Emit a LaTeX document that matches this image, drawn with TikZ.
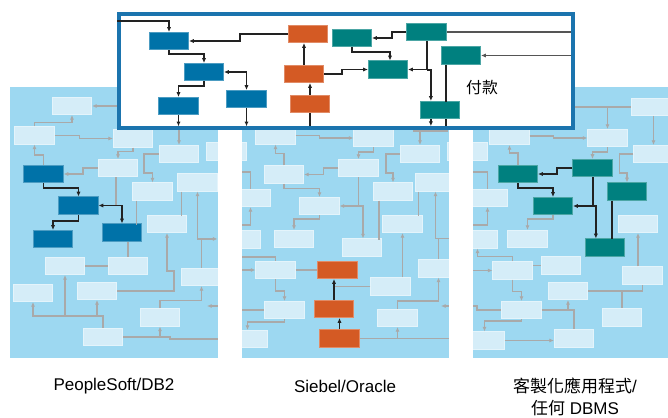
\documentclass[tikz,border=0pt]{standalone}
\usepackage{fontspec}
\setmainfont{Liberation Sans}
\newfontfamily\cjk{Noto Sans CJK TC}
\usetikzlibrary{arrows.meta,calc}
\definecolor{panelbg}{HTML}{9DD8F1}
\definecolor{boxfill}{HTML}{D5EDF8}
\definecolor{boxedge}{HTML}{E4F4FB}
\definecolor{psblue}{HTML}{0072A8}
\definecolor{sborange}{HTML}{D45A24}
\definecolor{cuteal}{HTML}{00807F}
\definecolor{lgray}{HTML}{A9A9A9}
\definecolor{dark}{HTML}{222222}
\definecolor{midgray}{HTML}{555555}
\definecolor{frame}{HTML}{1B74AE}
\def\LBox#1#2{\node[lbox] (#1) at (#2) {};}
\def\DBox#1#2#3{\node[dbox=#3] (#1) at (#2) {};}

\begin{document}
\begin{tikzpicture}[x=0.03cm,y=-0.03cm,
  lbox/.style={draw=boxedge,fill=boxfill,line width=0.5pt,minimum width=1.185cm,minimum height=0.525cm,inner sep=0pt},
  dbox/.style={fill=#1,draw=#1!70!white,line width=0.6pt,minimum width=1.185cm,minimum height=0.525cm,inner sep=0pt},
  gline/.style={draw=lgray,line width=1.5pt},
  garr/.style={gline,-{Latex[length=4pt,width=3.6pt]}},
  dline/.style={draw=dark,line width=1.7pt},
  darr/.style={dline,-{Latex[length=4pt,width=3.6pt]}},
  dboth/.style={dline,{Latex[length=4pt,width=3.6pt]}-{Latex[length=4pt,width=3.6pt]}},
  lbl/.style={font=\fontsize{14.5}{19}\selectfont,inner sep=0pt}]
\useasboundingbox (0,0) rectangle (668,417);
\fill[panelbg] (10,87) rectangle (668,358);
% PeopleSoft/DB2
\LBox{pa1}{72,106} \LBox{pa2}{34.5,135.5} \LBox{pa3}{133,138.5} \LBox{pa4}{118,168}
\LBox{pa5}{179,154} \LBox{pa6}{226.5,151.5} \LBox{pa7}{152.5,191.5} \LBox{pa8}{197.5,182.5}
\LBox{pa9}{167,224} \LBox{pa10}{65,266} \LBox{pa11}{128,266} \LBox{pa12}{201.5,277}
\LBox{pa13}{33,293} \LBox{pa14}{97,291} \LBox{pa15}{160,317.5} \LBox{pa16}{103,337}
\DBox{pd1}{43.5,174}{psblue} \DBox{pd2}{78.5,205.5}{psblue}
\DBox{pd3}{53,239}{psblue} \DBox{pd4}{122,232.5}{psblue}
% Siebel/Oracle
\LBox{qb1}{275.5,135.5} \LBox{qb2}{373.5,138} \LBox{qb3}{420,154} \LBox{qb4}{284,174.5}
\LBox{qb5}{358.5,168} \LBox{qb6}{393,191.5} \LBox{qb7}{435.5,182.5} \LBox{qb8}{250.5,198}
\LBox{qb9}{319.5,206} \LBox{qb10}{402.5,224} \LBox{qb11}{240.5,239.5} \LBox{qb12}{294,239}
\LBox{qb13}{362,247.5} \LBox{qb14}{275.5,270} \LBox{qb15}{438.5,268.5} \LBox{qb16}{390.5,286.5}
\LBox{qb17}{284.5,310} \LBox{qb18}{397.5,318} \LBox{qb19}{247.5,339}
\DBox{qo1}{337.5,270}{sborange} \DBox{qo2}{334,309}{sborange} \DBox{qo3}{339.5,338.5}{sborange}
% custom apps
\LBox{rb1}{509.5,136} \LBox{rb2}{651.5,106.75} \LBox{rb3}{607.5,138} \LBox{rb4}{467.5,151.5}
\LBox{rb5}{653.5,154} \LBox{rb6}{487.5,198} \LBox{rb7}{638,224} \LBox{rb8}{477.5,239.5}
\LBox{rb9}{527.5,239} \LBox{rb10}{512.5,270.5} \LBox{rb11}{561,265.5} \LBox{rb12}{642.5,275.5}
\LBox{rb13}{568,291} \LBox{rb14}{521.5,310} \LBox{rb15}{622,317.5} \LBox{rb16}{484.5,340.5}
\LBox{rb17}{574,338.5}
\DBox{rd1}{518,174}{cuteal} \DBox{rd2}{592.5,168}{cuteal} \DBox{rd3}{627,191.5}{cuteal}
\DBox{rd4}{553,206}{cuteal} \DBox{rd5}{605,247.5}{cuteal}
% grey links, panel 1
\coordinate (e1) at (125,106);
\draw[garr] (e1) -- (pa1.east);
\draw[garr] (pa2.north) -- ++(0,-4) -| (pa1.south);
\draw[garr] (pa2.east) -- ++(25,0) |- (pa3.west);
\draw[garr] (pd1.north) -- ++(0,-10) -| (pa2.south);
\draw[garr] (pa4.west) -- ++(-15,0) |- (pd1.east);
\draw[garr] (pa3.south) -- ++(0,4) -| (pa4.north);
\draw[gline] ($(pa4.south)+(-2,0)$) -- ($(pa4.south |- pd2.east)+(-2,0)$);
\draw[garr] (pa5.west) -- ++(-15,0) -- ++(0,19) -| (pa7.north);
\draw[gline] ($(pa7.south west)+(4,0)$) -- ++(0,24);
\draw[gline] ($(pa8.south west)+(4,0)$) -- ++(0,24);
\draw[garr] (pa12.north) -- ++(0,-29) -| (pa8.south);
\draw[garr] (pa12.north) ++(0,-29) -- ++(16,0);
\draw[gline] (pa11.north) -- (pa11.north |- pd4.south);
\draw[gline] (pa10.east) -- (pa11.west);
\draw[garr] (pa14.east) -- ++(57,0) -- ++(0,-20) -| (pa9.south);
\draw[garr] (pa16.north) -- ++(0,-12) -| (pa13.south);
\draw[garr] (pa16.north) ++(0,-12) -| (pa10.south);
\draw[garr] (pa16.north) ++(0,-12) -| (pa14.south);
\draw[gline] (pa16.east) -- ++(47,0) -- ++(0,2) -- ++(60,0);
\draw[garr] (pa16.east -| pa15.south) -- (pa15.south);
\draw[garr] (pa15.north) -- ++(0,-8) -| (pa12.south);
\coordinate (e2) at (222,306);
\draw[garr] (e2) -- ++(-15,0);
% grey links, panel 2
\draw[garr] (qb1.east) -- ++(24,0) |- (qb2.west);
\draw[garr] (qb2.south) -- ++(0,5) -| (qb5.north);
\draw[garr] (qb4.north) -- ++(0,-12) -| (qb1.south);
\draw[garr] (qb5.west) -- ++(-15,0) |- (qb4.east);
\draw[garr] (qb3.west) -- ++(-14,0) -- ++(0,19) -| (qb6.north);
\draw[garr] (qb4.south) -- ++(0,5) -| (qb9.north);
\draw[garr] (qb5.south) |- (qb9.east);
\draw[garr] (qb5.south) ++(0,29.25) -| ($(qb13.north)+(1,0)$);
\draw[garr] (qb9.south) -- ++(0,4) -| (qb12.north);
\draw[gline] ($(qb6.south west)+(6,0)$) -- ++(0,39);
\draw[gline] ($(qb7.south west)+(3,0)$) -- ++(0,24);
\coordinate (e3) at (236,172);
\draw[gline] (e3) -| (qb8.north);
\coordinate (e4) at (236,225);
\draw[garr] (e4) -| (qb8.south);
\draw[garr] (qb15.north) -- ++(0,-21) -| (qb7.south);
\draw[gline] (qb15.north) ++(0,-21) -- ++(12,0);
\draw[garr] (qb10.south |- qb16.north) -- (qb10.south);
\coordinate (e5) at (236,257);
\draw[gline] (e5) -| (qb14.north);
\coordinate (e6) at (236,270);
\draw[garr] (e6) -- (qb14.west);
\draw[gline] (qb14.east) -- (qo1.west);
\draw[garr] (qb14.south) -- ++(0,12) -| (qb17.north);
\draw[gline] (qb16.west) -- (qb16.west -| qo2.north);
\coordinate (e7) at (236,310);
\draw[gline] (e7) -- (qb17.west);
\draw[garr] (qb17.south) -- ++(0,3) -| (qb19.north);
\draw[garr] (qb18.north) -- ++(0,-8) -| (qb15.south);
\draw[gline] (qo3.east) -- ++(100,0);
\draw[garr] (qo3.east -| qb18.south) -- (qb18.south);
\coordinate (e8) at (455,306);
\draw[garr] (e8) -- ++(-14,0);
% grey links, panel 3
\draw[garr] (rb1.east) -- ++(24,0) |- (rb3.west);
\draw[garr] (rb3.south) -- ++(0,5) -| (rd2.north);
\draw[garr] (rd1.north) -- ++(0,-12) -| (rb1.south);
\draw[garr] (rb5.west) -- ++(-14,0) -- ++(0,19) -| (rd3.north);
\coordinate (e9) at (466,172);
\draw[gline] (e9) -| (rb6.north);
\coordinate (e10) at (466,225);
\draw[garr] (e10) -| (rb6.south);
\draw[garr] (rd4.south) -- ++(0,4) -| (rb9.north);
\draw[garr] (rb7.south |- rb12.north) -- (rb7.south);
\draw[garr] (rb10.north) -- ++(0,-5) -| (rb8.south);
\coordinate (e11) at (466,270.5);
\draw[garr] (e11) -- (rb10.west);
\draw[gline] (rb11.west) -- (rb11.west -| rb10.east);
\draw[garr] (rb10.south) -- ++(0,12) -| (rb14.north);
\draw[gline] (rb13.east) -| (rb12.south);
\draw[gline] (rb13.east -| rb15.north) -- (rb15.north);
\coordinate (e12) at (466,306);
\draw[gline] (e12) -- ++(11,0) |- (rb14.west);
\draw[gline] (rb14.east) -| (rb17.north);
\draw[garr] (rb14.east -| rb13.south) -- (rb13.south);
\draw[garr] (rb14.south) -- ++(0,2) -| (rb16.north);
\draw[garr] (rb16.east) -- (rb16.east -| rb17.west);
% dark links
\draw[darr] (pd1.south) -- ++(0,5) -| (pd2.north);
\draw[darr] (pd2.south) -- ++(0,6) -| (pd3.north);
\draw[dboth] (pd2.east) -| (pd4.north);
\draw[darr] (qo2.north) -- (qo2.north |- qo1.south);
\draw[darr] (qo3.north) -- (qo3.north |- qo2.south);
\draw[darr] (rd2.west) -- ++(-15,0) |- (rd1.east);
\draw[darr] (rd1.south) -- ++(0,5) -| (rd4.north);
\draw[darr] (rd2.south) |- (rd4.east);
\draw[darr] (rd2.south) ++(0,29.25) -| ($(rd5.north west)+(11,0)$);
\draw[dline] ($(rd3.south west)+(5,0)$) -- ++(0,38.5);
% gaps between the panels
\fill[white] (217.5,80) rectangle (241.5,362);
\fill[white] (448.5,80) rectangle (472.5,362);
% payment module
\node[draw=frame,line width=3pt,fill=white,minimum width=13.62cm,minimum height=3.42cm,inner sep=0pt] (pay) at (346,71) {};
\coordinate (bot) at ($(pay.south)+(0,-3.5)$);
\coordinate (rgt) at ($(pay.east)+(-3.5,0)$);
\DBox{wb1}{169,41}{psblue} \DBox{wb2}{204,72}{psblue}
\DBox{wb3}{178.5,106}{psblue} \DBox{wb4}{246.5,99}{psblue}
\DBox{wo1}{308,34}{sborange} \DBox{wo2}{304,74}{sborange} \DBox{wo3}{310,104}{sborange}
\DBox{wt1}{352,38}{cuteal} \DBox{wt2}{426.5,32}{cuteal} \DBox{wt3}{461,55.5}{cuteal}
\DBox{wt4}{388,69.5}{cuteal} \DBox{wt5}{440,110}{cuteal}
\node[font=\cjk\fontsize{13.5}{15}\selectfont,inner sep=0pt] (paylbl) at (482,88) {付款};
\draw[darr] ($(pay.north west)+(0,9)$) -| (wb1.north);
\draw[darr] (wo1.west) -- ++(-48,0) |- (wb1.east);
\draw[darr] (wb1.south) -- ++(0,4) -| (wb2.north);
\draw[darr] (wb2.south) -- ++(0,5) -| (wb3.north);
\draw[dboth] (wb2.east) -| (wb4.north);
\draw[darr] (wb3.south) -- (wb3.south |- bot);
\draw[darr] (wb4.south) -- (wb4.south |- bot);
\draw[dline] (wo3.south) -- (wo3.south |- bot);
\draw[darr] (wo2.north) -- (wo2.north |- wo1.south);
\draw[darr] (wo3.north) -- (wo3.north |- wo2.south);
\draw[darr] (wo2.east) -- ++(18,0) |- (wt4.west);
\draw[darr] (wt2.west) -- ++(-14,0) |- (wt1.east);
\draw[darr] (wt1.south) -- ++(0,5) -| ($(wt4.north)+(2,0)$);
\draw[darr] (wt2.south) |- (wt4.east);
\draw[darr] (wt2.south) ++(0,28.75) -| ($(wt5.north west)+(11,0)$);
\draw[dline,draw=midgray] (wt2.east) -- (wt2.east -| rgt);
\draw[darr,draw=midgray] (wt3.east -| rgt) -- (wt3.east);
\draw[dline] ($(wt3.south west)+(5,0)$) -- ++(0,37);
\draw[dline] ($(wt5.south west)+(26,0)$) -- ++(0,7);
\draw[darr] ($(wt5.south west)+(11,0)$) -- ++(0,7);
% grey links leaving the module
\draw[garr] (pay.south -| pa5.north) -- (pa5.north);
\draw[gline] ($(qb3.north |- pay.south)+(-7,1)$) -- ++(35,0);
\draw[garr] (qb3.north |- pay.south) -- (qb3.north);
\draw[gline] (rb2.west -| pay.east) -- (rb2.west);
\draw[garr] (rb2.west -| rb3.north) -- (rb3.north);
\draw[garr] (rb5.north |- rb2.south) -- (rb5.north);
% captions
\node[lbl] (cap1) at (114,386) {PeopleSoft/DB2};
\node[lbl] (cap2) at (345,386) {Siebel/Oracle};
\node[lbl,align=center] (cap3) at (575,397) {{\cjk 客製化應用程式}/\\{\cjk 任何} DBMS};
\end{tikzpicture}
\end{document}
